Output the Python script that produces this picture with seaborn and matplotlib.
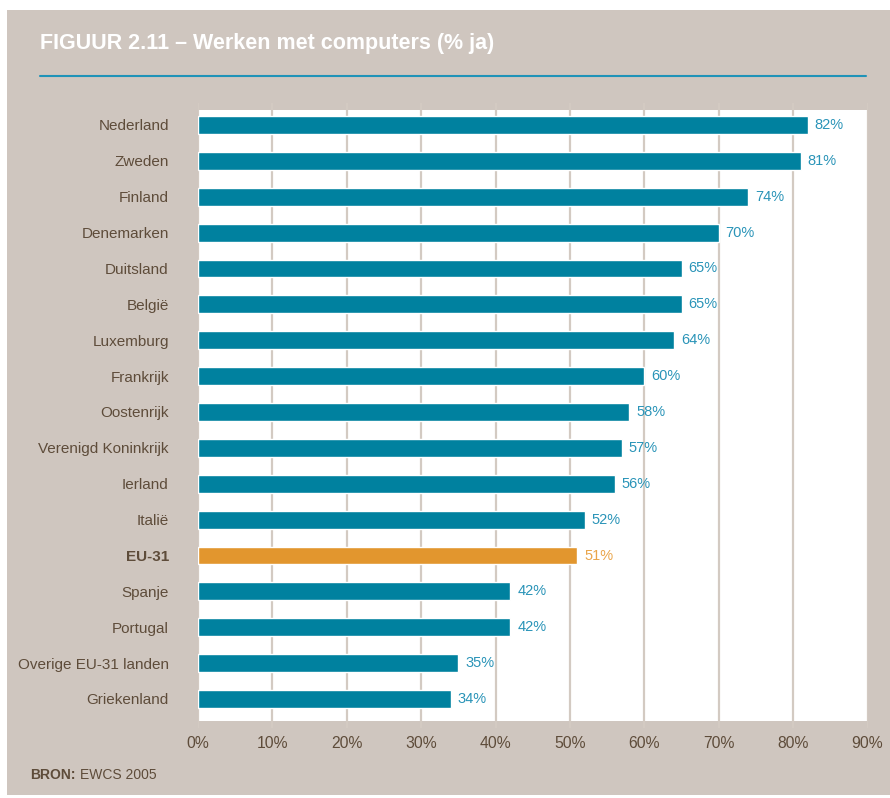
import matplotlib
matplotlib.use("Agg")
import matplotlib.pyplot as plt
from matplotlib.patches import Rectangle
import seaborn as sns
import pandas as pd

countries = ["Nederland", "Zweden", "Finland", "Denemarken", "Duitsland", "België",
             "Luxemburg", "Frankrijk", "Oostenrijk", "Verenigd Koninkrijk", "Ierland",
             "Italië", "EU-31", "Spanje", "Portugal", "Overige EU-31 landen", "Griekenland"]
values = [82, 81, 74, 70, 65, 65, 64, 60, 58, 57, 56, 52, 51, 42, 42, 35, 34]
highlight = "EU-31"
x_ticks = [0, 10, 20, 30, 40, 50, 60, 70, 80, 90]

TAN = "#cfc6bf"
TEAL = "#00819f"
TEAL_TXT = "#2a94b8"
ORANGE = "#e2962e"
ORANGE_TXT = "#eaa54a"
BROWN = "#5e4c3a"
GRID = "#d3cac2"

FONT = ["Liberation Sans", "DejaVu Sans"]

df = pd.DataFrame({"land": countries, "pct": values})
df["groep"] = ["eu" if c == highlight else "land" for c in countries]

sns.set_theme(style="white")
plt.rcParams["font.family"] = FONT

W, H = 890, 798
fig = plt.figure(figsize=(W / 100, H / 100), dpi=100)
fig.patch.set_facecolor("white")
fig.patches.append(Rectangle((7 / W, 1 - 795 / H), (W - 7) / W, (795 - 10) / H,
                             transform=fig.transFigure, facecolor=TAN,
                             edgecolor="none", zorder=-10))

# axes spans pixel x 198..867.5, y 103..728
ax = fig.add_axes([198 / W, 1 - 728 / H, 669.5 / W, 625 / H])
ax.set_facecolor(TAN)

sns.barplot(data=df, x="pct", y="land", hue="groep", orient="h",
            palette={"land": TEAL, "eu": ORANGE}, width=0.5, legend=False,
            dodge=False, saturation=1, ax=ax, zorder=3)

step = 35.875
ax.set_ylim(16 + (728 - 699) / step, -(125 - 103) / step)
ax.set_xlim(0, 90)
# white plotting field
top_w = -(125 - 110) / step
bot_w = 16 + (721 - 699) / step
ax.add_patch(Rectangle((0, top_w), 90, bot_w - top_w,
                       facecolor="white", edgecolor="none", zorder=1))
for t in x_ticks:
    ax.axvline(t, color=GRID, lw=1.6, zorder=2)

for i, (c, v) in enumerate(zip(countries, values)):
    ax.text(v + 0.9, i, f"{v}%", va="center", ha="left", fontsize=10.5,
            color=ORANGE_TXT if c == highlight else TEAL_TXT, zorder=4)

ax.set_xticks(x_ticks)
ax.set_xticklabels([f"{t}%" for t in x_ticks], fontsize=11.3, color=BROWN)
ax.tick_params(axis="x", length=0, pad=6)
ax.tick_params(axis="y", length=0, pad=21)
ax.set_yticks(range(len(countries)))
ax.set_yticklabels(countries, fontsize=11, color=BROWN)
for lbl in ax.get_yticklabels():
    if lbl.get_text() == highlight:
        lbl.set_fontweight("bold")
ax.set_xlabel("")
ax.set_ylabel("")
for s in ax.spines.values():
    s.set_visible(False)

fig.text(40 / W, 1 - 44 / H, "FIGUUR 2.11 – Werken met computers (% ja)",
         color="white", fontsize=15.5, fontweight="bold", va="center", ha="left")
fig.add_artist(plt.Line2D([40 / W, 866 / W], [1 - 76 / H, 1 - 76 / H],
                          transform=fig.transFigure, color="#1f93b8", lw=1.5))

bron = fig.text(30 / W, 1 - 775 / H, "BRON:", color=BROWN, fontsize=10,
                fontweight="bold", va="center", ha="left")
fig.canvas.draw()
bb = bron.get_window_extent()
fig.text((bb.x1 + 4) / W, 1 - 775 / H, "EWCS 2005", color=BROWN, fontsize=10,
         va="center", ha="left")

fig.savefig("out.png", dpi=100, facecolor=fig.get_facecolor())
